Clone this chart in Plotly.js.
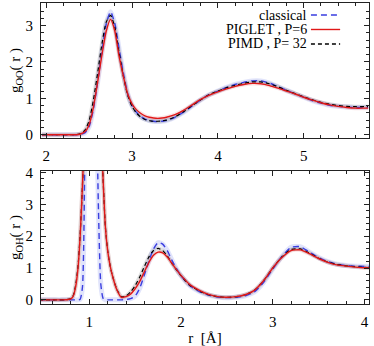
<!DOCTYPE html>
<html><head><meta charset="utf-8">
<script src="https://cdn.plot.ly/plotly-3.0.1.min.js"></script>
<style>html,body{margin:0;padding:0;background:#fff}</style>
</head><body><div id="chart" style="width:374px;height:346px"></div>
<script>
// ---- top panel: O-O radial distribution ----
const rOO = [1.95, 2.0, 2.1, 2.2, 2.3,
  2.35, 2.4, 2.45, 2.5, 2.55, 2.6, 2.65, 2.7, 2.75, 2.8, 2.85, 2.9, 2.95, 3.0, 3.05, 3.1, 3.15, 3.2, 3.25, 3.3, 3.35, 3.4,
  3.5, 3.6, 3.7, 3.8, 3.9, 4.0, 4.1, 4.2, 4.3, 4.4, 4.5, 4.6, 4.7, 4.8, 4.9, 5.0, 5.1, 5.2, 5.3, 5.4, 5.5, 5.6, 5.7, 5.75];
const gOO_classical = [0, 0, 0, 0, 0,
  0, 0.01, 0.05, 0.22, 0.7, 1.45, 2.3, 3.05, 3.38, 3.05, 2.35, 1.68, 1.12, 0.8, 0.62, 0.5, 0.43, 0.39, 0.37, 0.36, 0.37, 0.39,
  0.48, 0.62, 0.79, 0.96, 1.1, 1.2, 1.3, 1.38, 1.44, 1.48, 1.48, 1.42, 1.32, 1.22, 1.12, 1.03, 0.94, 0.87, 0.81, 0.78, 0.76, 0.75, 0.75, 0.75];
const gOO_piglet = [0, 0, 0, 0, 0,
  0, 0.02, 0.08, 0.27, 0.75, 1.45, 2.2, 2.85, 3.17, 2.85, 2.15, 1.6, 1.12, 0.85, 0.69, 0.59, 0.52, 0.48, 0.46, 0.45, 0.46, 0.48,
  0.55, 0.67, 0.82, 0.97, 1.09, 1.18, 1.26, 1.33, 1.38, 1.41, 1.4, 1.35, 1.28, 1.2, 1.12, 1.03, 0.95, 0.88, 0.82, 0.78, 0.75, 0.73, 0.73, 0.73];
const gOO_pimd = [0, 0, 0, 0, 0,
  0.005, 0.03, 0.12, 0.38, 0.95, 1.7, 2.5, 3.1, 3.28, 2.95, 2.25, 1.6, 1.08, 0.78, 0.6, 0.49, 0.42, 0.39, 0.37, 0.37, 0.38, 0.4,
  0.49, 0.63, 0.8, 0.96, 1.1, 1.2, 1.29, 1.36, 1.41, 1.45, 1.45, 1.4, 1.32, 1.22, 1.13, 1.04, 0.96, 0.89, 0.84, 0.8, 0.78, 0.77, 0.77, 0.77];

// ---- bottom panel: O-H radial distribution ----
const rOH = [0.45, 0.5, 0.6, 0.7, 0.75, 0.8,
  0.825, 0.85, 0.875, 0.9, 0.925, 0.95, 0.975, 1.0, 1.025, 1.05, 1.075, 1.1, 1.125, 1.15, 1.175, 1.2, 1.225, 1.25,
  1.3, 1.35, 1.4, 1.45, 1.5, 1.55, 1.6, 1.65, 1.7, 1.75, 1.8, 1.85, 1.9, 1.95, 2.0,
  2.1, 2.2, 2.3, 2.4, 2.5, 2.6, 2.7, 2.8, 2.9, 3.0, 3.1, 3.2, 3.3, 3.4, 3.5, 3.6, 3.7, 3.8, 3.9, 4.0, 4.05];
const gOH_classical = [0, 0, 0, 0, 0, 0,
  0, 0, 0, 0.02, 0.4, 4.2, 11, 17, 18, 13, 7, 2.8, 0.5, 0.05, 0, 0, 0, 0,
  0, 0, 0.01, 0.04, 0.12, 0.37, 0.78, 1.22, 1.6, 1.8, 1.75, 1.55, 1.25, 0.98, 0.76,
  0.44, 0.26, 0.15, 0.09, 0.07, 0.08, 0.13, 0.25, 0.55, 0.97, 1.36, 1.65, 1.67, 1.5, 1.33, 1.2, 1.12, 1.08, 1.06, 1.05, 1.05];
const gOH_piglet = [0, 0, 0, 0, 0.005, 0.03,
  0.12, 0.4, 0.95, 2.0, 3.6, 5.5, 7.2, 8.2, 8.5, 8.1, 7.2, 6.6, 5.6, 3.8, 2.3, 1.55, 1.1, 0.78,
  0.32, 0.08, 0.1, 0.18, 0.35, 0.58, 0.88, 1.18, 1.4, 1.5, 1.48, 1.35, 1.15, 0.95, 0.77,
  0.47, 0.3, 0.17, 0.1, 0.08, 0.1, 0.16, 0.3, 0.6, 1.0, 1.33, 1.55, 1.57, 1.45, 1.3, 1.18, 1.1, 1.06, 1.03, 1.01, 1.0];
const gOH_pimd = [0, 0, 0, 0, 0.008, 0.04,
  0.14, 0.45, 1.0, 2.05, 3.6, 5.4, 7.0, 8.0, 8.3, 7.9, 7.0, 6.5, 5.5, 3.8, 2.3, 1.55, 1.1, 0.78,
  0.33, 0.1, 0.12, 0.25, 0.45, 0.72, 1.05, 1.35, 1.55, 1.62, 1.55, 1.38, 1.15, 0.94, 0.76,
  0.45, 0.28, 0.16, 0.1, 0.08, 0.1, 0.16, 0.3, 0.6, 1.0, 1.35, 1.58, 1.6, 1.47, 1.31, 1.19, 1.11, 1.07, 1.04, 1.02, 1.01];

const seriesNames = ['classical', 'PIGLET , P=6', 'PIMD , P= 32'];

const FONT = 'Liberation Serif';
const col = {classical: '#3a3ee0', piglet: '#e01818', pimd: '#000000'};
const band = {classical: 'rgba(120,130,235,0.22)', piglet: 'rgba(235,100,100,0.18)', pimd: 'rgba(60,60,60,0.16)'};

function curve(x, y, xa, ya, color, dash, w) {
  return {x: x, y: y, xaxis: xa, yaxis: ya, mode: 'lines', type: 'scatter', showlegend: false,
    hoverinfo: 'skip', line: {color: color, dash: dash, width: w, shape: 'spline', smoothing: 0.6}};
}

const traces = [
  curve(rOO, gOO_classical, 'x', 'y', band.classical, 'solid', 5),
  curve(rOO, gOO_pimd, 'x', 'y', band.pimd, 'solid', 4),
  curve(rOO, gOO_piglet, 'x', 'y', band.piglet, 'solid', 4),
  curve(rOO, gOO_classical, 'x', 'y', col.classical, '6px,4px', 1.4),
  curve(rOO, gOO_pimd, 'x', 'y', col.pimd, '4px,3px', 1.2),
  curve(rOO, gOO_piglet, 'x', 'y', col.piglet, 'solid', 1.4),
  curve(rOH, gOH_classical, 'x2', 'y2', band.classical, 'solid', 5),
  curve(rOH, gOH_pimd, 'x2', 'y2', band.pimd, 'solid', 4),
  curve(rOH, gOH_piglet, 'x2', 'y2', band.piglet, 'solid', 4),
  curve(rOH, gOH_classical, 'x2', 'y2', col.classical, '6px,4px', 1.4),
  curve(rOH, gOH_pimd, 'x2', 'y2', col.pimd, '4px,3px', 1.2),
  curve(rOH, gOH_piglet, 'x2', 'y2', col.piglet, 'solid', 1.4)
];

function axis(extra) {
  return Object.assign({
    showline: true, linecolor: '#222', linewidth: 1, mirror: 'allticks',
    ticks: 'inside', ticklen: 5, tickwidth: 1, tickcolor: '#222',
    tick0: 0, dtick: 1, showgrid: false, zeroline: false,
    minor: {tick0: 0, dtick: 0.2, ticks: 'inside', ticklen: 3, tickcolor: '#222', showgrid: false},
    tickfont: {family: FONT, size: 15, color: '#000'},
    ticklabelstandoff: 4
  }, extra);
}

const legY = [0.960, 0.912, 0.864];
const legCol = [col.classical, col.piglet, col.pimd];
const legDash = ['6px,4px', 'solid', '4px,3px'];
const annotations = seriesNames.map((s, i) => ({
  text: s, xref: 'paper', yref: 'paper', x: 0.815, y: legY[i], xanchor: 'right', yanchor: 'middle',
  showarrow: false, font: {family: FONT, size: 14, color: '#000'}, borderpad: 0
}));
const shapes = seriesNames.map((s, i) => ({
  type: 'line', xref: 'paper', yref: 'paper', x0: 0.823, x1: 0.912, y0: legY[i], y1: legY[i],
  line: {color: legCol[i], width: 1.4, dash: legDash[i]}
}));

const layout = {
  width: 374, height: 346,
  margin: {l: 41, r: 5, t: 3, b: 42},
  paper_bgcolor: '#fff', plot_bgcolor: '#fff',
  font: {family: FONT, size: 14, color: '#000'},
  showlegend: false,
  xaxis: axis({domain: [0, 1], anchor: 'y', range: [1.94, 5.76]}),
  yaxis: axis({domain: [0.5515, 1], anchor: 'x', range: [-0.09, 3.62],
    title: {text: 'g<sub>OO</sub>( r )', font: {family: FONT, size: 15}, standoff: 0}}),
  xaxis2: axis({domain: [0, 1], anchor: 'y2', range: [0.473, 4.05],
    title: {text: 'r  [Å]', font: {family: FONT, size: 15}, standoff: 9}}),
  yaxis2: axis({domain: [0, 0.4419], anchor: 'x2', range: [-0.13, 4.05],
    title: {text: 'g<sub>OH</sub>( r )', font: {family: FONT, size: 15}, standoff: 0}}),
  annotations: annotations,
  shapes: shapes
};

Plotly.newPlot('chart', traces, layout, {staticPlot: true, displayModeBar: false});
</script>
</body></html>
